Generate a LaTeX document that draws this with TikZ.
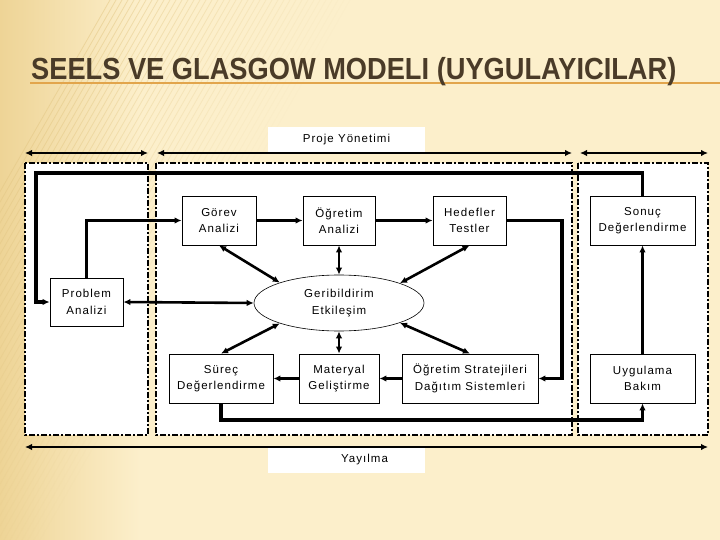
\documentclass[tikz,border=0pt]{standalone}
\usepackage{fontspec}
\usetikzlibrary{arrows.meta,shapes.geometric}
\setmainfont{Liberation Sans}
\newfontfamily\boxfont{Liberation Sans}[LetterSpace=9]
\newfontfamily\titlefont{Liberation Sans}[FakeStretch=0.893]
\definecolor{bgbase}{HTML}{FCEFCB}
\definecolor{bgdark}{HTML}{EED496}
\definecolor{stripe}{HTML}{E3C784}
\definecolor{titlecol}{HTML}{4A3B28}
\definecolor{ruleorange}{HTML}{E2A54C}
\tikzset{
  box/.style={draw, line width=0.8pt, fill=white, align=center, inner sep=0pt,
    font=\boxfont\fontsize{11.5}{16.5}\selectfont},
  labelbox/.style={fill=white, inner sep=0pt, minimum width=157pt, minimum height=25pt,
    font=\boxfont\fontsize{11.5}{16.5}\selectfont},
  frame/.style={draw, fill=white, line width=1.5pt, dash pattern=on 6pt off 2pt on 2pt off 2pt},
  arr/.style={-{Latex[length=7pt,width=6.5pt]}, line width=#1},
  arr/.default=2.5pt,
  darr/.style={{Latex[length=7pt,width=6.5pt]}-{Latex[length=7pt,width=6.5pt]}, line width=#1},
  darr/.default=2.5pt,
}
\begin{document}
\begin{tikzpicture}[x=1pt,y=-1pt]
\useasboundingbox (0,0) rectangle (720,540);
% background
\fill[bgbase] (0,0) rectangle (720,540);
\shade[left color=bgdark, right color=bgbase] (0,0) rectangle (140,540);
\begin{scope}
\clip (0,0) rectangle (720,540);
\foreach \i in {0,...,40} {
  \draw[stripe, line width=0.8pt, opacity={max(0,0.55-\i*0.013)}] (\i*6-200,540) -- (\i*6+110,0);
}
\end{scope}
% title
\draw[ruleorange, line width=1.6pt] (30,83) -- (720,83);
\node[anchor=base west, inner sep=0pt, text=titlecol, font=\titlefont\bfseries\fontsize{30.5}{34}\selectfont] (title) at (31,80) {SEELS VE GLASGOW MODELI (UYGULAYICILAR)};

% dash-dot frames
\draw[frame] (25,163) rectangle (148,435);
\draw[frame] (156,163) rectangle (572,435);
\draw[frame] (578,163) rectangle (708,435);

% label boxes
\node[labelbox] (proj) at (346.5,139.5) {Proje Yönetimi};
\node[labelbox] (yay) at (346.5,460) {\hspace*{36pt}Yayılma};

% span arrows
\coordinate (t1a) at (25,153);
\coordinate (t1b) at (148,153);
\coordinate (t2a) at (157,153);
\coordinate (t2b) at (572,153);
\coordinate (t3a) at (580,153);
\coordinate (t3b) at (708,153);
\coordinate (b1a) at (25,447);
\coordinate (b1b) at (708,447);
\draw[darr=2.6pt] (t1a) -- (t1b);
\draw[darr=2.6pt] (t2a) -- (t2b);
\draw[darr=2.6pt] (t3a) -- (t3b);
\draw[darr=2.6pt] (b1a) -- (b1b);

% nodes
\node[box, minimum width=74pt, minimum height=49pt] (gor) at (219,220.5) {Görev\\Analizi};
\node[box, minimum width=72pt, minimum height=49pt] (ogr) at (339,220.5) {Öğretim\\Analizi};
\node[box, minimum width=73pt, minimum height=49pt] (hed) at (469.5,220.5) {Hedefler\\Testler};
\node[box, minimum width=105pt, minimum height=49pt] (son) at (642.5,220.5) {Sonuç\\Değerlendirme};
\node[box, minimum width=73pt, minimum height=48pt] (prob) at (86.5,302) {Problem\\Analizi};
\node[box, ellipse, line width=0.6pt, minimum width=170pt, minimum height=56pt] (ell) at (339,303) {Geribildirim\\Etkileşim};
\node[box, minimum width=104pt, minimum height=49pt] (sur) at (221,378.5) {Süreç\\Değerlendirme};
\node[box, minimum width=80pt, minimum height=49pt] (mat) at (339,378.5) {Materyal\\Geliştirme};
\node[box, minimum width=136pt, minimum height=49pt] (str) at (470,378.5) {Öğretim Stratejileri\\Dağıtım Sistemleri};
\node[box, minimum width=105pt, minimum height=49pt] (uyg) at (642.5,378.5) {Uygulama\\Bakım};

% connectors
\coordinate (tl) at (36,173);
\coordinate (hr) at (562,220.5);
\coordinate (br) at (221,420);
\draw[arr=3.6pt] (son.north) |- (tl) |- (prob.west);
\draw[arr=2.5pt] (prob.north) |- (gor.west);
\draw[arr=2.8pt] (gor.east) -- (ogr.west);
\draw[arr=3.6pt] (ogr.east) -- (hed.west);
\draw[arr=3.6pt] (hed.east) -- (hr) |- (str.east);
\draw[arr=2.8pt] (str.west) -- (mat.east);
\draw[arr=2.8pt] (mat.west) -- (sur.east);
\draw[arr=3.6pt] (sur.south) -- (br) -| (uyg.south);
\draw[arr=2.2pt] (uyg.north) -- (son.south);
\draw[darr=2.6pt] (prob.east) -- (ell.west);
\draw[darr=2.6pt] (gor.south) -- (ell.161);
\draw[darr=2.6pt] (ogr.south) -- (ell.north);
\draw[darr=2.6pt] (hed.south) -- (ell.18);
\draw[darr=2.6pt] (ell.199) -- (sur.north);
\draw[darr=2.6pt] (ell.south) -- (mat.north);
\draw[darr=2.6pt] (ell.-18) -- (str.north);
\end{tikzpicture}
\end{document}
